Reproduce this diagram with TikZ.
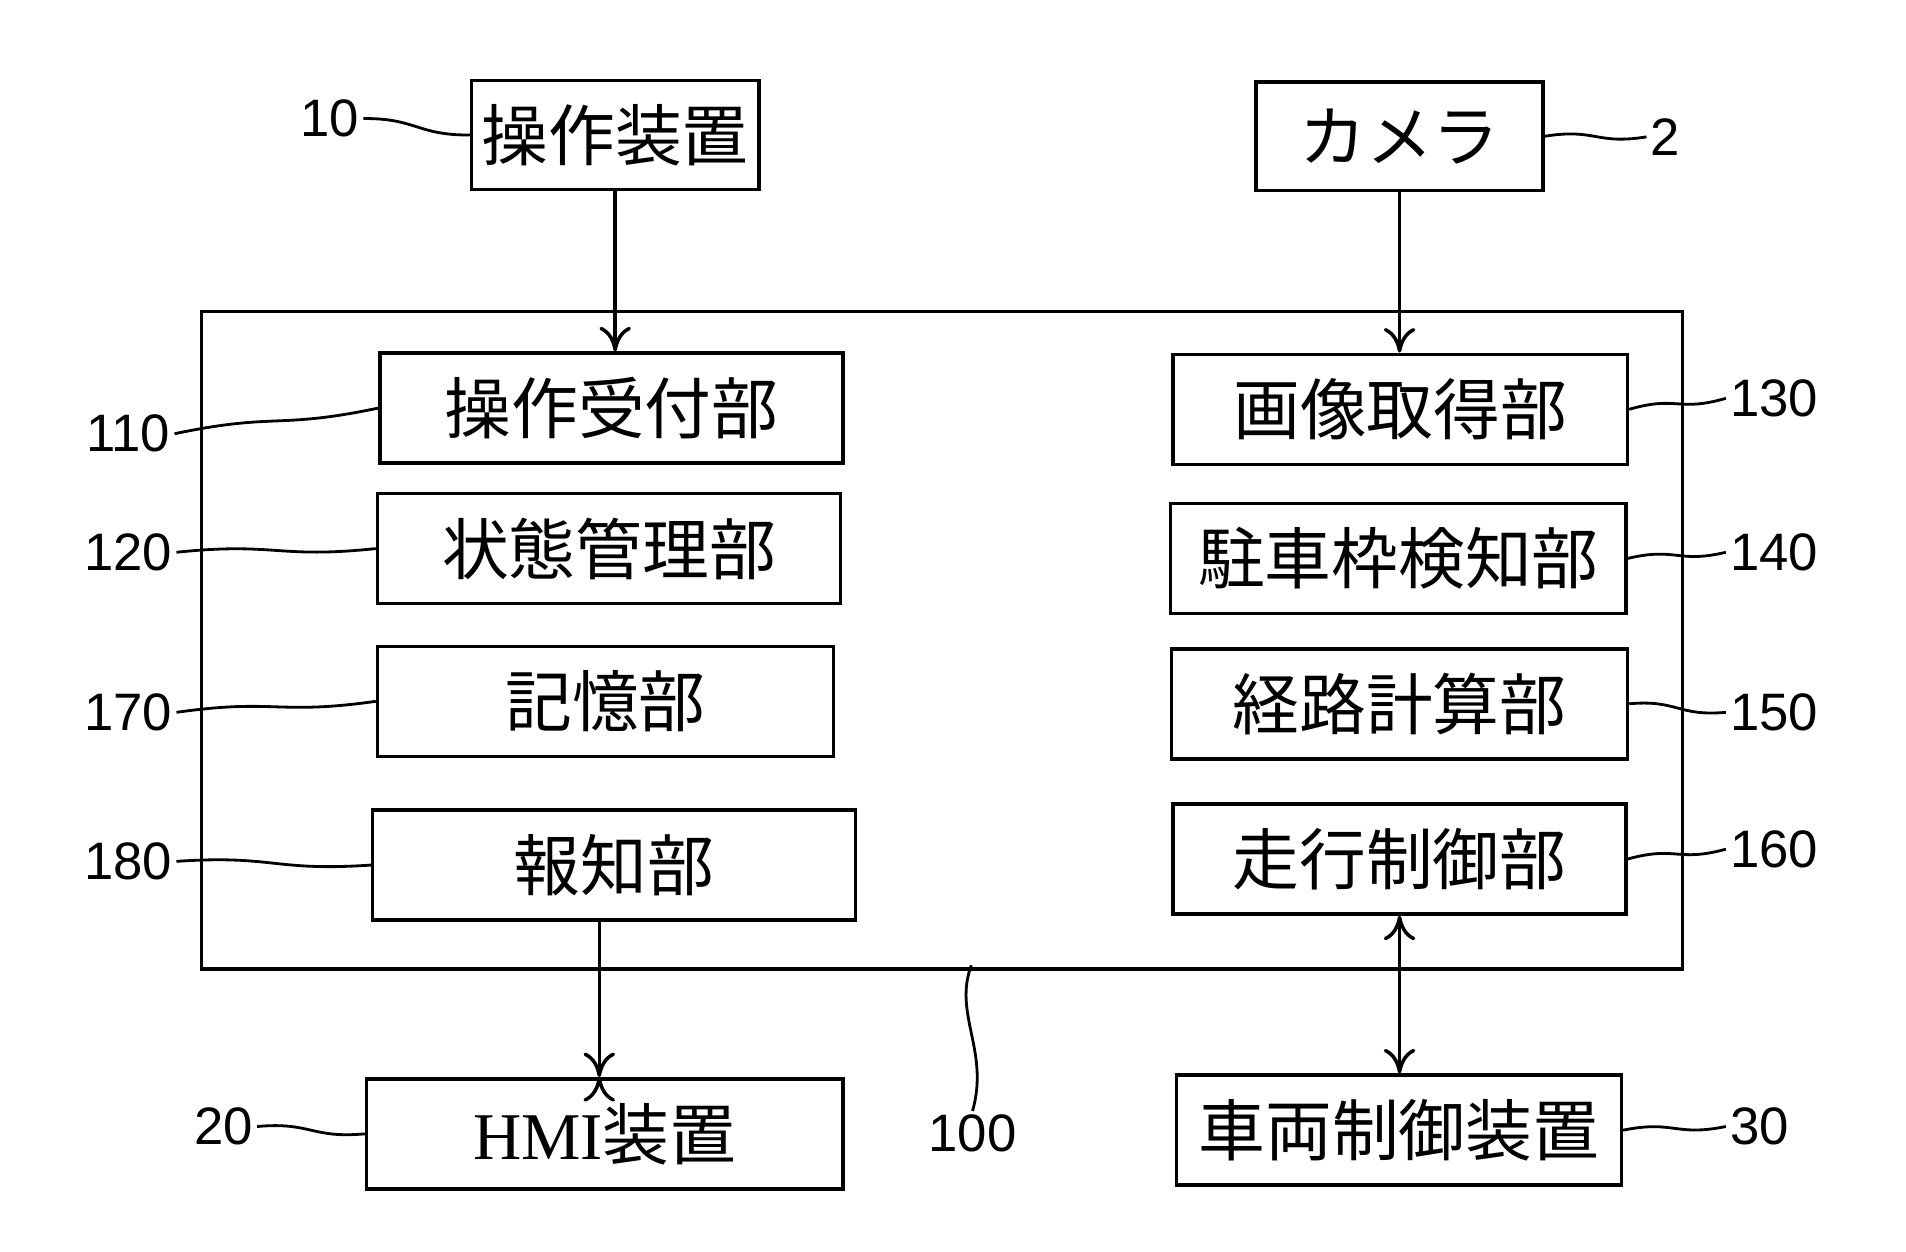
\documentclass[tikz,border=0pt]{standalone}
\usepackage{fontspec}
\setmainfont{Liberation Sans}
\newfontfamily\jpfont{Noto Sans CJK JP}
\newfontfamily\hmifont{Liberation Serif}
\usetikzlibrary{calc,arrows.meta}

% block: name, x1, y1, x2, y2, text (pixel units of the drawing)
\newcommand{\blk}[6]{%
  \node[box, minimum width={(#4-#2)*0.01222cm}, minimum height={(#5-#3)*0.01222cm}]
    (#1) at ({(#2+#4)/2},{(#3+#5)/2}) {#6};}

\begin{document}
\begin{tikzpicture}[
	x=0.01222cm, y=-0.01222cm,
	box/.style={draw, line width=1pt, inner sep=0pt, font=\jpfont\fontsize{19}{22}\selectfont},
	num/.style={font=\fontsize{15}{18}\selectfont, inner sep=1pt},
	lead/.style={line width=0.8pt, to path={.. controls ($(\tikztostart)!0.5!(\tikztotarget)+(0,-7)$) and ($(\tikztostart)!0.5!(\tikztotarget)+(0,7)$) .. (\tikztotarget)}},
	link/.style={line width=1pt, -{To[length=7pt,width=9pt]}}
]
\useasboundingbox (0,0) rectangle (1560,1024.5);

% outer unit
\node[draw, line width=1pt, minimum width={1212*0.01222cm}, minimum height={538*0.01222cm}, inner sep=0pt] (unit) at (771,524) {};

% external devices
\blk{opdev}{386}{66}{621}{155}{操作装置}
\blk{cam}{1028}{67}{1263}{156}{カメラ}
\blk{hmi}{300}{883}{690}{973}{{\hmifont HMI}装置}
\blk{vcd}{963}{880}{1327}{970}{車両制御装置}

% internal blocks
\blk{opacc}{311}{289}{690}{379}{操作受付部}
\blk{state}{309}{404}{688}{494}{状態管理部}
\blk{mem}{309}{529}{682}{619}{記憶部}
\blk{notify}{305}{663}{700}{753}{報知部}
\blk{imgacq}{960}{290}{1332}{380}{画像取得部}
\blk{pdet}{958}{412}{1331}{502}{駐車枠検知部}
\blk{route}{959}{531}{1332}{621}{経路計算部}
\blk{drive}{960}{658}{1331}{748}{走行制御部}

% reference numerals
\node[num] (n10) at (270,97) {10};
\node[num] (n2) at (1363,112) {2};
\node[num] (n110) at (105,355) {110};
\node[num] (n120) at (105,452) {120};
\node[num] (n170) at (105,583) {170};
\node[num] (n180) at (105,705) {180};
\node[num] (n130) at (1452,326) {130};
\node[num] (n140) at (1452,452) {140};
\node[num] (n150) at (1452,583) {150};
\node[num] (n160) at (1452,695) {160};
\node[num] (n20) at (183,922) {20};
\node[num] (n100) at (796,928) {100};
\node[num] (n30) at (1440,922) {30};

% leaders
\draw[lead] (n10.east) to (opdev.west);
\draw[lead] (n110.east) to (opacc.west);
\draw[lead] (n120.east) to (state.west);
\draw[lead] (n170.east) to (mem.west);
\draw[lead] (n180.east) to (notify.west);
\draw[lead] (n20.east) to (hmi.west);
\draw[lead] (cam.east) to (n2.west);
\draw[lead] (imgacq.east) to (n130.west);
\draw[lead] (pdet.east) to (n140.west);
\draw[lead] (route.east) to (n150.west);
\draw[lead] (drive.east) to (n160.west);
\draw[lead] (vcd.east) to (n30.west);
\coordinate (u100) at (795,790);
\draw[line width=0.8pt] (u100) .. controls (780,830) and (810,860) .. (n100.north);

% signal flow
\draw[link] (opdev.south) -- (opdev.south |- opacc.north);
\draw[link] (cam.south) -- (cam.south |- imgacq.north);
\draw[link] (hmi.north -| notify.south) ++(-12,0) coordinate (hmitop);
\draw[link] (notify.south -| hmitop) -- (hmitop);
\draw[link, {To[length=7pt,width=9pt]}-{To[length=7pt,width=9pt]}] (drive.south -| cam.south) -- (vcd.north -| cam.south);
\end{tikzpicture}
\end{document}
